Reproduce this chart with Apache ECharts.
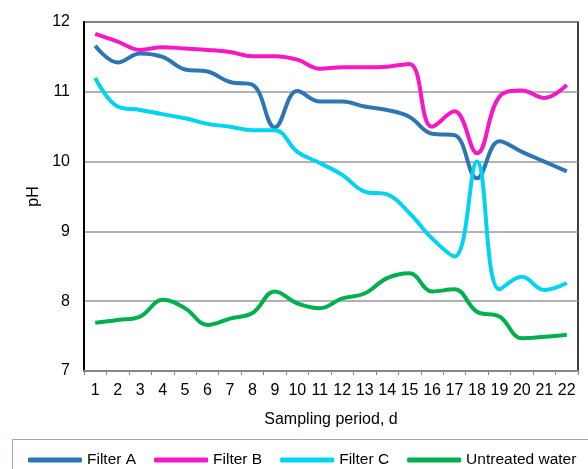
<!DOCTYPE html>
<html><head><meta charset="utf-8">
<script src="https://cdn.jsdelivr.net/npm/echarts@6/dist/echarts.min.js"></script>
<style>html,body{margin:0;padding:0;background:#fff}#c{width:588px;height:469px}</style>
</head><body><div id="c"></div>
<script>
var categories = ['1','2','3','4','5','6','7','8','9','10','11','12','13','14','15','16','17','18','19','20','21','22'];
var filterA = [11.66,11.42,11.55,11.50,11.32,11.29,11.14,11.10,10.49,11.01,10.86,10.86,10.79,10.74,10.64,10.40,10.38,9.76,10.29,10.14,10.00,9.86];
var filterB = [11.83,11.72,11.60,11.64,11.62,11.60,11.57,11.51,11.51,11.46,11.33,11.35,11.35,11.36,11.40,10.50,10.72,10.12,10.93,11.02,10.91,11.10];
var filterC = [11.20,10.79,10.74,10.68,10.62,10.54,10.50,10.45,10.45,10.14,9.98,9.81,9.57,9.53,9.26,8.90,8.64,10.00,8.17,8.35,8.16,8.26];
var untreated = [7.69,7.73,7.78,8.02,7.90,7.66,7.75,7.83,8.14,7.97,7.90,8.04,8.11,8.33,8.40,8.14,8.17,7.85,7.78,7.47,7.49,7.52];
var seriesNames = ['Filter A','Filter B','Filter C','Untreated water'];
var colors = ['#2E75B6','#F518C4','#00D4F0','#00B04F'];

var chart = echarts.init(document.getElementById('c'));
var font = '"Liberation Sans", Arial, sans-serif';
function mk(name, data, color) {
  return {name: name, type: 'line', data: data, smooth: 0.4, symbol: 'none',
    lineStyle: {width: 4, color: color}, itemStyle: {color: color}};
}
chart.setOption({
  animation: false,
  color: colors,
  textStyle: {fontFamily: font},
  grid: {left: 84, top: 22, right: 10, bottom: 98, show: true, borderColor: '#000', borderWidth: 1.5, backgroundColor: 'transparent'},
  graphic: [{type: 'rect', shape: {x: 12.5, y: 439.5, width: 590, height: 40}, style: {fill: 'none', stroke: '#8FAAD6', lineWidth: 1}}],
  legend: {left: 23, top: 447, width: 700, itemWidth: 54, itemHeight: 5, itemGap: 18, icon: 'roundRect',
    textStyle: {fontSize: 15.5, color: '#000', fontFamily: font},
    data: seriesNames},
  xAxis: {type: 'category', data: categories, boundaryGap: true,
    name: 'Sampling period, d', nameLocation: 'middle', nameGap: 41,
    nameTextStyle: {fontSize: 16, color: '#000'},
    axisLine: {lineStyle: {color: '#888', width: 2}},
    axisTick: {show: true, lineStyle: {color: '#888'}, length: 4, inside: false},
    axisLabel: {fontSize: 16, color: '#000', margin: 12, interval: 0}},
  yAxis: {type: 'value', min: 7, max: 12, interval: 1,
    name: 'pH', nameLocation: 'middle', nameGap: 42, nameRotate: 90,
    nameTextStyle: {fontSize: 16, color: '#000'},
    axisLine: {show: true, lineStyle: {color: '#000', width: 2}},
    axisTick: {show: false},
    splitLine: {lineStyle: {color: '#999', width: 1.5}},
    axisLabel: {fontSize: 16, color: '#000', margin: 14}},
  series: [mk(seriesNames[0], filterA, colors[0]), mk(seriesNames[1], filterB, colors[1]),
           mk(seriesNames[2], filterC, colors[2]), mk(seriesNames[3], untreated, colors[3])]
});
</script></body></html>
